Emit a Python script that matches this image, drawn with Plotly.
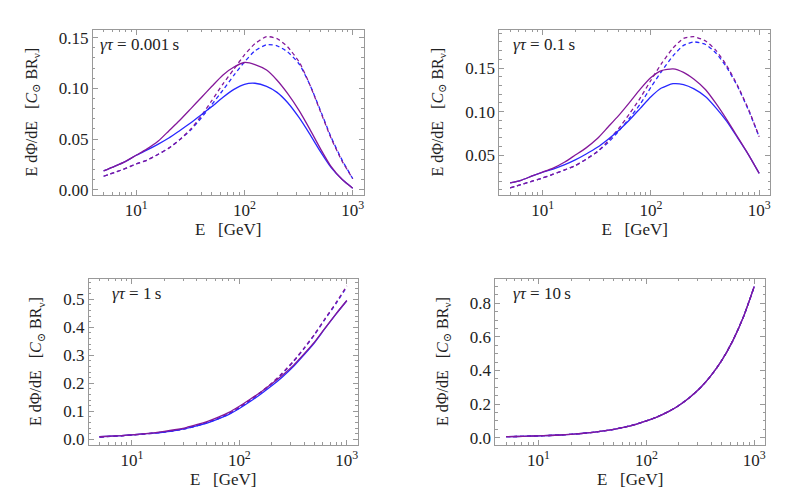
import plotly.graph_objects as go
from plotly.subplots import make_subplots

# energies (GeV), roughly even in log E
energy = [5, 6.3, 8, 10, 12.5, 16, 20, 25, 32, 40, 50, 63, 80, 100,
          125, 160, 200, 250, 320, 400, 500, 630, 800, 1000]

# gamma*tau = 0.001 s
p1_purple_solid = [0.0185, 0.023, 0.028, 0.034, 0.040, 0.048, 0.058, 0.068, 0.080, 0.091, 0.102, 0.113, 0.121, 0.1255,
                   0.1235, 0.118, 0.108, 0.095, 0.078, 0.060, 0.041, 0.023, 0.010, 0.0015]
p1_blue_solid = [0.0185, 0.023, 0.028, 0.034, 0.039, 0.045, 0.051, 0.058, 0.066, 0.074, 0.082, 0.091, 0.099, 0.104,
                 0.105, 0.102, 0.096, 0.086, 0.071, 0.055, 0.038, 0.022, 0.010, 0.0015]
p1_purple_dash = [0.0133, 0.017, 0.021, 0.0255, 0.029, 0.035, 0.041, 0.049, 0.060, 0.073, 0.088, 0.104, 0.119, 0.133,
                  0.144, 0.151, 0.149, 0.141, 0.126, 0.104, 0.078, 0.051, 0.028, 0.011]
p1_blue_dash = [0.0133, 0.017, 0.021, 0.0255, 0.029, 0.035, 0.041, 0.049, 0.059, 0.071, 0.084, 0.098, 0.113, 0.126,
                0.137, 0.143, 0.142, 0.136, 0.124, 0.104, 0.079, 0.052, 0.029, 0.011]

# gamma*tau = 0.1 s
p2_purple_solid = [0.018, 0.021, 0.026, 0.0305, 0.035, 0.042, 0.050, 0.058, 0.069, 0.082, 0.095, 0.110, 0.126, 0.139,
                   0.147, 0.149, 0.145, 0.137, 0.125, 0.109, 0.091, 0.071, 0.050, 0.029]
p2_blue_solid = [0.018, 0.021, 0.026, 0.0305, 0.034, 0.039, 0.0445, 0.051, 0.059, 0.068, 0.078, 0.090, 0.104, 0.117,
                 0.127, 0.132, 0.131, 0.126, 0.117, 0.104, 0.089, 0.070, 0.050, 0.029]
p2_purple_dash = [0.0124, 0.016, 0.020, 0.0237, 0.028, 0.033, 0.038, 0.045, 0.054, 0.066, 0.080, 0.097, 0.116, 0.136,
                  0.155, 0.173, 0.184, 0.186, 0.181, 0.170, 0.153, 0.130, 0.102, 0.071]
p2_blue_dash = [0.0124, 0.016, 0.020, 0.0237, 0.028, 0.033, 0.038, 0.045, 0.054, 0.064, 0.077, 0.092, 0.109, 0.128,
                0.146, 0.164, 0.176, 0.180, 0.177, 0.167, 0.151, 0.129, 0.101, 0.071]

# gamma*tau = 1 s
p3_purple_solid = [0.009, 0.011, 0.013, 0.016, 0.019, 0.023, 0.028, 0.034, 0.042, 0.052, 0.063, 0.078, 0.096, 0.118,
                   0.142, 0.170, 0.198, 0.228, 0.265, 0.305, 0.347, 0.398, 0.450, 0.496]
p3_blue_solid = [0.009, 0.011, 0.013, 0.016, 0.019, 0.022, 0.026, 0.031, 0.039, 0.048, 0.058, 0.072, 0.089, 0.110,
                 0.134, 0.163, 0.191, 0.222, 0.261, 0.302, 0.345, 0.397, 0.449, 0.495]
p3_purple_dash = [0.008, 0.010, 0.012, 0.015, 0.018, 0.022, 0.026, 0.031, 0.039, 0.049, 0.060, 0.074, 0.092, 0.114,
                  0.140, 0.170, 0.200, 0.236, 0.280, 0.326, 0.375, 0.432, 0.490, 0.548]
p3_blue_dash = [0.008, 0.010, 0.012, 0.015, 0.018, 0.022, 0.026, 0.031, 0.038, 0.048, 0.059, 0.073, 0.090, 0.112,
                0.138, 0.168, 0.198, 0.234, 0.278, 0.324, 0.373, 0.430, 0.487, 0.545]

# gamma*tau = 10 s (all four curves overlap)
p4_purple_solid = [0.006, 0.007, 0.009, 0.011, 0.013, 0.016, 0.020, 0.025, 0.032, 0.040, 0.050, 0.063, 0.080, 0.100,
                   0.123, 0.155, 0.192, 0.238, 0.300, 0.372, 0.460, 0.575, 0.725, 0.900]
p4_blue_solid = p4_purple_solid
p4_purple_dash = p4_purple_solid
p4_blue_dash = p4_purple_solid

panel_labels = ["0.001\u2009s", "0.1\u2009s", "1\u2009s", "10\u2009s"]

PURPLE = "#84189a"
BLUE = "#2828ff"
FONT = "Liberation Serif, DejaVu Serif, serif"

panels = [
    (p1_purple_solid, p1_blue_solid, p1_purple_dash, p1_blue_dash),
    (p2_purple_solid, p2_blue_solid, p2_purple_dash, p2_blue_dash),
    (p3_purple_solid, p3_blue_solid, p3_purple_dash, p3_blue_dash),
    (p4_purple_solid, p4_blue_solid, p4_purple_dash, p4_blue_dash),
]

# frame positions in pixels (left, right, top, bottom) on a 789x488 page
W, H = 789, 488
frames = [(85, 356, 21, 188), (492, 763, 21, 188), (81, 350, 273, 441), (488, 758, 273, 441)]
y_ranges = [[-0.0049, 0.1578], [0.0045, 0.194], [-0.019, 0.574], [-0.041, 0.947]]
y_major = [0.05, 0.05, 0.1, 0.2]
y_minor = [0.01, 0.01, 0.02, 0.05]
label_x = [0.018, 0.043, 0.078, 0.058]

fig = make_subplots(rows=2, cols=2)

for i, (ps, bs, pd_, bd) in enumerate(panels):
    r, c = i // 2 + 1, i % 2 + 1
    for vals, col, dash in [(bd, BLUE, "4px,3px"), (pd_, PURPLE, "4px,3px"),
                            (bs, BLUE, "solid"), (ps, PURPLE, "solid")]:
        fig.add_trace(go.Scatter(
            x=energy, y=vals, mode="lines",
            line=dict(color=col, width=1.3, dash=dash, shape="spline", smoothing=0.6),
            showlegend=False, hoverinfo="skip",
        ), row=r, col=c)

minor_x = [v * m for m in (1, 10, 100) for v in range(2, 10)]
minor_x = [v for v in minor_x if 3.98 <= v <= 1260]

for i in range(4):
    n = "" if i == 0 else str(i + 1)
    l, rgt, t, b = frames[i]
    fig.layout["xaxis" + n].update(
        domain=[l / W, rgt / W],
        type="log", range=[0.60, 3.10],
        tickvals=[10, 100, 1000],
        ticktext=["10<sup>1</sup>", "10<sup>2</sup>", "10<sup>3</sup>"],
        ticks="inside", ticklen=5, tickcolor="#999", tickwidth=1,
        minor=dict(ticks="inside", ticklen=2.5, tickcolor="#999", tickvals=minor_x),
        showline=True, linecolor="#999", linewidth=1, mirror="allticks",
        showgrid=False, zeroline=False,
        title=dict(text="E   [GeV]", standoff=3, font=dict(size=17, family=FONT)),
        tickfont=dict(size=17, family=FONT),
    )
    lo, hi = y_ranges[i]
    fig.layout["yaxis" + n].update(
        domain=[1 - b / H, 1 - t / H],
        range=[lo, hi],
        dtick=y_major[i], tick0=0, tickformat=".2f" if i < 2 else ".1f",
        ticks="inside", ticklen=5, tickcolor="#999", tickwidth=1,
        minor=dict(ticks="inside", ticklen=2.5, tickcolor="#999", dtick=y_minor[i], tick0=0),
        showline=True, linecolor="#999", linewidth=1, mirror="allticks",
        showgrid=False, zeroline=False,
        title=dict(text="E d\u03a6/dE   [<i>C</i><sub>\u2299</sub> BR<sub>\u03bd</sub>]",
                   standoff=17, font=dict(size=16, family=FONT)),
        tickfont=dict(size=17, family=FONT),
    )
    fig.add_annotation(
        xref=f"x{n} domain", yref=f"y{n} domain", x=label_x[i], y=0.91,
        xanchor="left", yanchor="middle", showarrow=False,
        text=f"<i>\u03b3\u03c4</i> = {panel_labels[i]}", font=dict(size=17, family=FONT),
    )

fig.update_layout(
    width=W, height=H,
    margin=dict(l=0, r=0, t=0, b=0),
    paper_bgcolor="white", plot_bgcolor="white",
    font=dict(family=FONT, color="#222"),
)

fig.write_html("out.html")
